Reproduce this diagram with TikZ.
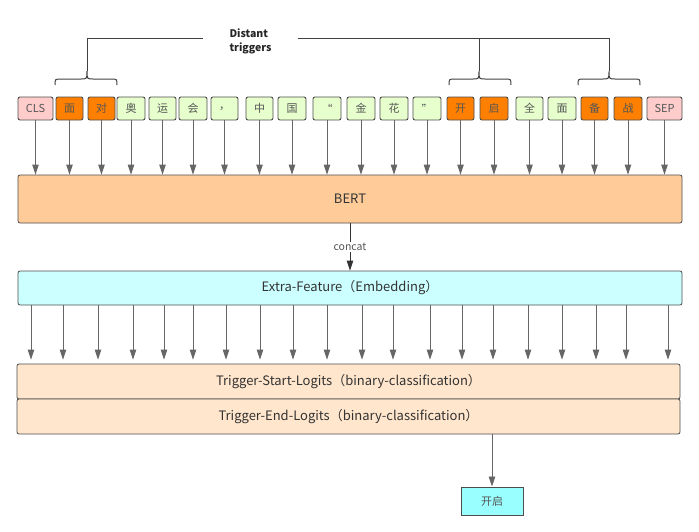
\documentclass[tikz,border=0pt]{standalone}
\usepackage{fontspec}
\setmainfont{Noto Sans CJK SC}
\usetikzlibrary{arrows.meta}
\definecolor{pinkf}{HTML}{FFCCCC}
\definecolor{orangef}{HTML}{FF8000}
\definecolor{greenf}{HTML}{E6FFCC}
\definecolor{bertf}{HTML}{FFCC99}
\definecolor{eff}{HTML}{CCFFFF}
\definecolor{trigf}{HTML}{FFE6CC}
\definecolor{outf}{HTML}{99FFFF}
\definecolor{bord}{HTML}{4D4D4D}
\definecolor{txt}{HTML}{555555}
\definecolor{arrc}{HTML}{666666}
\newcommand\mybrace[3]{%
  \draw[bracel] (#1,85) .. controls (#1,79) .. (#1+6,79) -- (#2-6,79)
    .. controls (#2,79) .. (#2,71) .. controls (#2,79) .. (#2+6,79)
    -- (#3-6,79) .. controls (#3,79) .. (#3,85);}
\begin{document}
\begin{tikzpicture}[x=1pt,y=-1pt,
  tok/.style={draw=bord, line width=0.9pt, rounded corners=2pt, inner sep=0pt,
    minimum height=23pt, font=\fontsize{11}{12}\selectfont, text=txt},
  big/.style={draw=bord, line width=0.8pt, rounded corners=2pt, inner sep=0pt,
    font=\fontsize{13}{15}\selectfont, text=black!80},
  arr/.style={draw=arrc, line width=0.9pt, -{Triangle[width=6.5pt,length=10pt]}, arrc},
  arrk/.style={draw=black!80, line width=0.9pt, -{Triangle[width=6.5pt,length=10pt]}, black!80},
  bracel/.style={draw=black!75, line width=1pt}]
\useasboundingbox (0,0) rectangle (699,531);

% braces and title
\node[font=\bfseries\fontsize{10.5}{14}\selectfont, align=left, anchor=west, text=black!85] (dt) at (226,41) {Distant\\triggers};
\draw[bracel] (87,71) |- (203,38);
\draw[bracel] (298,38) -| (609,71);
\draw[bracel] (479,38) -- (479,71);
\mybrace{55}{87}{117}
\mybrace{449}{479}{511}
\mybrace{578}{609}{640}

% tokens
\foreach \a/\b/\l/\c [count=\i] in {18/53/CLS/pinkf, 56/83/面/orangef, 88/115/对/orangef,
  117/145/奥/greenf, 149/176/运/greenf, 179/207/会/greenf, 211/238/，/greenf,
  246/273/中/greenf, 278/306/国/greenf, 313/341/“/greenf, 347/375/金/greenf,
  380/408/花/greenf, 413/441/”/greenf, 447/474/开/orangef, 480/508/启/orangef,
  516/543/全/greenf, 548/576/面/greenf, 581/608/备/orangef, 614/642/战/orangef,
  647/682/SEP/pinkf}{
  \pgfmathsetmacro\cx{(\a+\b)/2}
  \pgfmathsetmacro\w{\b-\a}
  \node[tok, fill=\c, minimum width=\w pt] (t\i) at (\cx,108.5) {\l};
}

% big boxes
\node[big, fill=bertf, minimum width=664pt, minimum height=48pt] (bert) at (350,199) {BERT};
\node[big, fill=eff, minimum width=664pt, minimum height=34pt] (ef) at (350,288) {Extra-Feature（Embedding）};
\node[big, fill=trigf, minimum width=663pt, minimum height=35pt] (ts) at (348.5,381.5) {Trigger-Start-Logits（binary-classification）};
\node[big, fill=trigf, minimum width=663pt, minimum height=35pt] (te) at (348.5,416.5) {Trigger-End-Logits（binary-classification）};
\node[draw=bord, line width=1pt, fill=outf, minimum width=62pt, minimum height=28pt, inner sep=0pt, font=\fontsize{11}{12}\selectfont, text=txt] (out) at (492,501) {开启};

% token -> BERT arrows
\foreach \i in {1,...,20}
  \draw[arr] (t\i.south) -- (t\i.south |- bert.north);

% concat
\draw[arrk] (bert.south) -- node[fill=white, inner sep=1.5pt, font=\fontsize{10.5}{12}\selectfont, text=txt] {concat} (ef.north);

% EF -> trigger arrows
\foreach \x [count=\i] in {31,63,98,133,164,193,226,260,293,327,362,393,430,462,493,528,562,596,626,668}{
  \coordinate (e\i) at (\x,0);
  \draw[arr, shorten >=4pt] (ef.south -| e\i) -- (ts.north -| e\i);
}

% output
\draw[arr] (out.north |- te.south) -- (out.north);
\end{tikzpicture}
\end{document}
